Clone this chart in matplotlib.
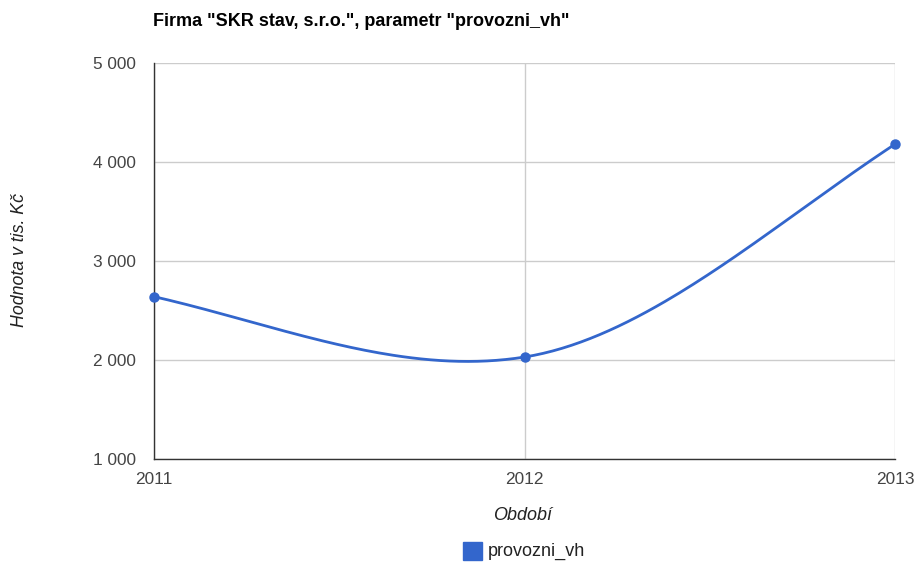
import numpy as np
import matplotlib.pyplot as plt
from matplotlib.ticker import FuncFormatter
from matplotlib.patches import Rectangle

plt.rcParams['font.family'] = ['Liberation Sans', 'DejaVu Sans']

# data
years = [2011, 2012, 2013]
values = [2640, 2030, 4180]
series_name = 'provozni_vh'
title = 'Firma "SKR stav, s.r.o.", parametr "provozni_vh"'
y_ticks = [1000, 2000, 3000, 4000, 5000]

LINE = '#3366CC'
GRID = '#CCCCCC'
TXT = '#444444'


def smooth(xs, ys, k=0.78, a=0.2, n=80):
    """hermite smoothing, close to google charts curveType function"""
    xs = np.asarray(xs, float)
    ys = np.asarray(ys, float)
    cnt = len(xs)
    chords = np.diff(ys) / np.diff(xs)
    m = np.zeros(cnt)
    for i in range(1, cnt - 1):
        m[i] = k * (ys[i + 1] - ys[i - 1]) / (xs[i + 1] - xs[i - 1])
    m[0] = chords[0] + a * (chords[0] - m[1]) if cnt > 2 else chords[0]
    m[-1] = chords[-1] + a * (chords[-1] - m[-2]) if cnt > 2 else chords[-1]
    px, py = [], []
    for i in range(cnt - 1):
        h = xs[i + 1] - xs[i]
        s = np.linspace(0, 1, n)
        h00 = 2 * s**3 - 3 * s**2 + 1
        h10 = s**3 - 2 * s**2 + s
        h01 = -2 * s**3 + 3 * s**2
        h11 = s**3 - s**2
        px.extend(xs[i] + s * h)
        py.extend(h00 * ys[i] + h10 * h * m[i] + h01 * ys[i + 1] + h11 * h * m[i + 1])
    return px, py


fig = plt.figure(figsize=(9.17, 5.62), dpi=100)
ax = fig.add_axes([154 / 917, 1 - 459 / 562, (895 - 154) / 917, (459 - 63) / 562])

cx, cy = smooth(years, values)
ax.plot(cx, cy, color=LINE, linewidth=2, zorder=3, clip_on=False)
ax.plot(years, values, 'o', color=LINE, markersize=6.5, zorder=4, clip_on=False)

ax.set_xlim(years[0], years[-1])
ax.set_ylim(y_ticks[0], y_ticks[-1])
ax.set_xticks(years)
ax.set_yticks(y_ticks)
ax.yaxis.set_major_formatter(FuncFormatter(lambda v, p: f'{int(v):,}'.replace(',', ' ')))
ax.grid(True, color=GRID, linewidth=1)
ax.set_axisbelow(True)
ax.tick_params(length=0, labelsize=12.4, colors=TXT)
ax.tick_params(axis='y', pad=13)
ax.tick_params(axis='x', pad=9)

for side in ['top', 'right']:
    ax.spines[side].set_visible(False)
for side in ['left', 'bottom']:
    ax.spines[side].set_color('#333333')
    ax.spines[side].set_linewidth(1)

fig.text(153 / 917, 1 - 22 / 562, title, fontsize=13, fontweight='bold',
         ha='left', va='center', color='black')
fig.text(20 / 917, 1 - 260 / 562, 'Hodnota v tis. Kč', rotation=90, style='italic',
         fontsize=12.8, color='#222222', ha='center', va='center')
fig.text(523 / 917, 1 - 516 / 562, 'Období', style='italic', fontsize=13,
         color='#222222', ha='center', va='center')

# legend
fig.patches.append(Rectangle((463 / 917, 1 - 560 / 562), 19 / 917, 18 / 562,
                             transform=fig.transFigure, color=LINE))
fig.text(488 / 917, 1 - 551 / 562, series_name, fontsize=13, color='#222222',
         ha='left', va='center')

fig.savefig('out.png', dpi=100)
